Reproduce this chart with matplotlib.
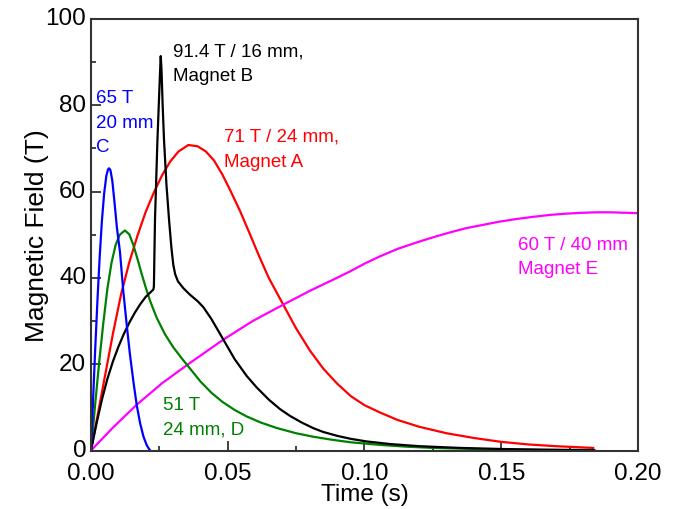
import matplotlib
matplotlib.use("Agg")
import matplotlib.pyplot as plt
import matplotlib.transforms as mtrans
from matplotlib.ticker import MultipleLocator, FormatStrFormatter

## time in s, field in T
t_A = [0, 0.004, 0.008, 0.011, 0.014, 0.017, 0.020, 0.023, 0.026, 0.029,
       0.032, 0.0356, 0.039, 0.042, 0.045, 0.048, 0.051, 0.0545, 0.058, 0.0615,
       0.065, 0.0703, 0.075, 0.080, 0.0849, 0.090, 0.095, 0.100, 0.1057, 0.112,
       0.120, 0.130, 0.140, 0.150, 0.160, 0.170, 0.1836]
B_A = [0, 13.5, 27.0, 36.2, 43.6, 49.8, 55.3, 59.8, 63.8, 67.0,
       69.3, 70.8, 70.5, 69.3, 67.2, 64.0, 60.2, 55.5, 50.3, 45.0,
       40.0, 33.8, 28.3, 23.2, 19.0, 15.5, 12.6, 10.5, 8.8, 7.1,
       5.5, 4.0, 2.9, 2.0, 1.4, 1.0, 0.6]

t_B = [0, 0.002, 0.004, 0.006, 0.008, 0.010, 0.012, 0.014, 0.016, 0.018,
       0.020, 0.0228, 0.0230, 0.0234, 0.0243, 0.0249, 0.0253, 0.0255, 0.0258, 0.0262,
       0.0267, 0.0276, 0.0286, 0.0294, 0.0301, 0.0308, 0.0318, 0.0338, 0.0362, 0.039,
       0.0411, 0.044, 0.0484, 0.0525, 0.0569, 0.0606, 0.065, 0.0691, 0.0728, 0.077,
       0.0812, 0.0849, 0.090, 0.095, 0.1008, 0.1093, 0.120, 0.135, 0.150, 0.165, 0.184]
B_B = [0, 6.2, 11.8, 16.6, 20.6, 24.0, 27.0, 29.6, 31.9, 33.9,
       35.6, 37.3, 38.0, 53.5, 72.0, 82.0, 88.5, 91.4, 88.0, 80.0,
       72.0, 61.5, 53.0, 47.0, 43.0, 40.8, 39.2, 37.6, 36.1, 34.6,
       33.2, 30.5, 25.7, 21.2, 17.3, 14.6, 11.8, 9.6, 8.0, 6.5,
       5.2, 4.3, 3.4, 2.7, 2.1, 1.5, 1.0, 0.6, 0.35, 0.2, 0.1]

t_C = [0, 0.0008, 0.0016, 0.0024, 0.0032, 0.0040, 0.0048, 0.0056, 0.0062, 0.0066,
       0.0071, 0.0078, 0.0086, 0.0095, 0.0106, 0.0118, 0.0130, 0.0142, 0.0155, 0.0167,
       0.0180, 0.0192, 0.0204, 0.0216]
B_C = [0, 12.4, 24.3, 35.3, 45.1, 53.3, 59.5, 63.6, 65.1, 65.4,
       65.0, 62.5, 57.5, 51.5, 46.0, 37.0, 29.5, 22.5, 16.0, 10.6,
       6.2, 3.2, 1.2, 0]

t_D = [0, 0.0015, 0.003, 0.0045, 0.006, 0.0075, 0.009, 0.0105, 0.0124, 0.014,
       0.0155, 0.017, 0.0185, 0.020, 0.0216, 0.024, 0.027, 0.030, 0.033, 0.0362,
       0.040, 0.044, 0.048, 0.0525, 0.0569, 0.062, 0.068, 0.075, 0.0812, 0.088,
       0.095, 0.1057, 0.115, 0.125, 0.140, 0.160, 0.180]
B_D = [0, 10.5, 20.5, 29.5, 37.5, 43.5, 47.6, 50.0, 51.0, 50.1,
       47.6, 44.4, 41.0, 37.8, 34.7, 30.8, 27.0, 24.0, 21.5, 19.0,
       16.0, 13.4, 11.3, 9.4, 7.9, 6.5, 5.2, 4.0, 3.2, 2.5,
       1.9, 1.3, 0.9, 0.6, 0.35, 0.15, 0.05]

t_E = [0, 0.0080, 0.0167, 0.0260, 0.0362, 0.0484, 0.0591, 0.0703, 0.0800, 0.0886,
       0.0947, 0.1000, 0.1057, 0.1120, 0.1190, 0.1250, 0.1310, 0.1370, 0.1434, 0.1490,
       0.1550, 0.1610, 0.1678, 0.1740, 0.1800, 0.1850, 0.1900, 0.1950, 0.2000]
B_E = [0, 5.3, 10.6, 15.6, 20.3, 25.7, 30.0, 33.8, 37.0, 39.6,
       41.5, 43.3, 45.0, 46.7, 48.2, 49.4, 50.5, 51.5, 52.3, 53.0,
       53.6, 54.1, 54.6, 54.9, 55.1, 55.2, 55.2, 55.1, 55.0]

plt.rcParams['font.family'] = ['Liberation Sans', 'DejaVu Sans']

fig = plt.figure(figsize=(6.78, 5.10), dpi=100)
ax = fig.add_axes([0.1342, 0.1147, 0.8068, 0.8461])

lw = 1.6
ax.plot(t_A, B_A, color="#ff0000", lw=lw)
ax.plot(t_E, B_E, color="#ff00ff", lw=lw)
ax.plot(t_D, B_D, color="#008000", lw=lw)
ax.plot(t_B, B_B, color="black", lw=lw)
ax.plot(t_C, B_C, color="#0000ff", lw=lw)

ax.set_xlim(0, 0.20)
ax.set_ylim(0, 100)
ax.xaxis.set_major_locator(MultipleLocator(0.05))
ax.xaxis.set_minor_locator(MultipleLocator(0.025))
ax.yaxis.set_major_locator(MultipleLocator(20))
ax.yaxis.set_minor_locator(MultipleLocator(10))
ax.xaxis.set_major_formatter(FormatStrFormatter("%.2f"))
ax.tick_params(which='both', direction='in', top=False, right=False,
               labelsize=17.5, width=1.3, color="#333333")
ax.tick_params(which='major', length=7)
ax.tick_params(which='minor', length=3.5)
ax.tick_params(axis='x', which='major', pad=8)
for s in ax.spines.values():
    s.set_linewidth(1.5)
    s.set_color("#333333")

# nudge y tick labels up a little so "0" clears "0.00"
up = mtrans.ScaledTranslation(0, 0.03, fig.dpi_scale_trans)
for lbl in ax.get_yticklabels():
    lbl.set_transform(lbl.get_transform() + up)

ax.set_xlabel("Time (s)", fontsize=17.5, labelpad=-0.5)
ax.set_ylabel("Magnetic Field (T)", fontsize=19, labelpad=-2.5)

fs = 13.5
ls = 1.6
ax.text(0.0300, 94.6, "91.4 T / 16 mm,\nMagnet B", color="black", fontsize=fs,
        va="top", linespacing=ls)
ax.text(0.0485, 74.8, "71 T / 24 mm,\nMagnet A", color="#ff0000", fontsize=fs,
        va="top", linespacing=ls)
ax.text(0.0019, 83.8, "65 T\n20 mm\nC", color="#0000ff", fontsize=fs,
        va="top", linespacing=ls)
ax.text(0.0265, 12.6, "51 T\n24 mm, D", color="#008000", fontsize=fs,
        va="top", linespacing=ls)
ax.text(0.1562, 49.8, "60 T / 40 mm\nMagnet E", color="#ff00ff", fontsize=fs,
        va="top", linespacing=ls)

plt.savefig("out.png", dpi=100)
